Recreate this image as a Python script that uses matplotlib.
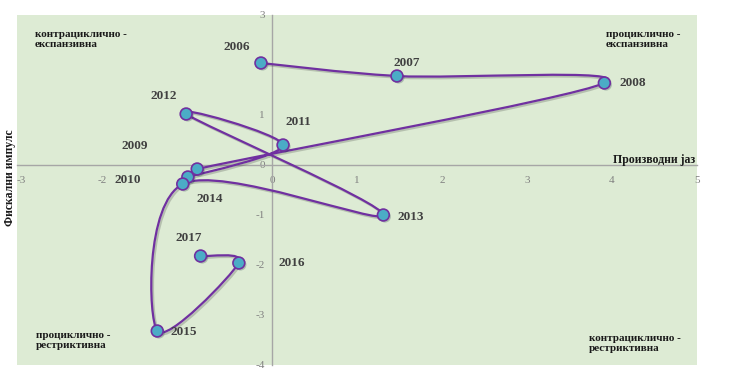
import numpy as np
import matplotlib
matplotlib.use("Agg")
import matplotlib.pyplot as plt
from matplotlib.path import Path
from matplotlib.patches import PathPatch
import matplotlib.patheffects as pe

years = ["2006", "2007", "2008", "2009", "2010", "2011", "2012", "2013",
         "2014", "2015", "2016", "2017"]
output_gap = [-0.13, 1.47, 3.91, -0.88, -0.99, 0.13, -1.01, 1.31,
              -1.05, -1.35, -0.39, -0.84]
fiscal_impulse = [2.04, 1.78, 1.64, -0.08, -0.24, 0.40, 1.02, -1.00,
                  -0.38, -3.32, -1.96, -1.82]
x_ticks = [-3, -2, -1, 0, 1, 2, 3, 4, 5]
y_ticks = [-4, -3, -2, -1, 0, 1, 2, 3]

# label offsets in pixels (dx, dy)
label_offsets = {
    "2006": (-24, 16), "2007": (10, 13), "2008": (28, 0), "2009": (-62, 23),
    "2010": (-60, -3), "2011": (15, 23), "2012": (-22, 18), "2013": (27, -2),
    "2014": (27, -15), "2015": (27, -1), "2016": (53, 0), "2017": (-12, 18),
}

W, H = 730, 380
fig = plt.figure(figsize=(W / 100, H / 100), dpi=100)
L, R, T, B = 17, 697, 15, 365
ax = fig.add_axes([L / W, (H - B) / H, (R - L) / W, (B - T) / H])
ax.set_facecolor("#DDEBD4")
ax.set_xlim(-3, 5)
ax.set_ylim(-4, 3)

for s in ["top", "right"]:
    ax.spines[s].set_visible(False)
ax.spines["left"].set_position(("data", 0))
ax.spines["bottom"].set_position(("data", 0))
for s in ["left", "bottom"]:
    ax.spines[s].set_color("#A6A6A6")
    ax.spines[s].set_linewidth(1.0)

serif = ["Liberation Serif", "DejaVu Serif"]
ax.set_xticks(x_ticks)
ax.set_yticks(y_ticks)
ax.set_xticklabels([str(v) for v in x_ticks], family=serif, fontsize=8, color="#808080")
ax.set_yticklabels([str(v) for v in y_ticks], family=serif, fontsize=8, color="#808080")
ax.tick_params(axis="x", length=0, pad=8)
ax.tick_params(axis="y", length=0, pad=5)
for lbl in ax.get_xticklabels() + ax.get_yticklabels():
    lbl.set_clip_on(False)
ax.get_xticklabels()[0].set_horizontalalignment("left")
ax.get_xticklabels()[0].set_x(-2.98)

# Smooth curve (Bezier, Catmull-Rom tangents capped by segment length,
# computed in pixel-proportional space)
sx, sy = 85.0, 50.0
P = np.column_stack([np.array(output_gap) * sx, np.array(fiscal_impulse) * sy])
n = len(P)


def cap(v, limit):
    m = np.hypot(*v)
    return v if m <= limit or m == 0 else v * (limit / m)


verts = [tuple(P[0])]
codes = [Path.MOVETO]
for i in range(n - 1):
    p0 = P[i - 1] if i > 0 else P[i]
    p1 = P[i]
    p2 = P[i + 1]
    p3 = P[i + 2] if i + 2 < n else P[i + 1]
    seg = np.hypot(*(p2 - p1))
    c1 = p1 + cap((p2 - p0) / 6.0, seg * 0.45)
    c2 = p2 - cap((p3 - p1) / 6.0, seg * 0.45)
    verts += [tuple(c1), tuple(c2), tuple(p2)]
    codes += [Path.CURVE4] * 3
verts = [(vx / sx, vy / sy) for vx, vy in verts]
path = Path(verts, codes)
patch = PathPatch(path, facecolor="none", edgecolor="#7030A0", lw=1.6, zorder=3)
patch.set_path_effects([pe.SimpleLineShadow(offset=(1.2, -1.2), alpha=0.25, shadow_color="#404040"),
                        pe.Normal()])
ax.add_patch(patch)

ax.plot(output_gap, fiscal_impulse, linestyle="none", marker="o", ms=8.5,
        mfc="#4BACC6", mec="#7030A0", mew=1.2, zorder=4,
        path_effects=[pe.SimplePatchShadow(offset=(1.2, -1.2), alpha=0.25), pe.Normal()])

for yr, x, y in zip(years, output_gap, fiscal_impulse):
    dx, dy = label_offsets[yr]
    ax.annotate(yr, (x, y), xytext=(dx, dy), textcoords="offset pixels",
                ha="center", va="center", family=serif, fontsize=9.5,
                fontweight="bold", color="#404040", zorder=5)


def fig_text(px, py, s):
    fig.text(px / W, 1 - py / H, s, family=serif, fontsize=8, fontweight="bold",
             color="#1a1a1a", ha="left", va="top", linespacing=1.15)


fig_text(35, 30, "контрациклично -\nекспанзивна")
fig_text(606, 30, "проциклично -\nекспанзивна")
fig_text(36, 331, "проциклично -\nрестриктивна")
fig_text(589, 334, "контрациклично -\nрестриктивна")

fig.text(695 / W, 1 - 160 / H, "Производни јаз", family=serif, fontsize=8.5,
         fontweight="bold", color="#1a1a1a", ha="right", va="center")
fig.text(10 / W, 1 - 178 / H, "Фискални импулс", family=serif, fontsize=8.5,
         fontweight="bold", color="#1a1a1a", ha="center", va="center", rotation=90)

fig.savefig("out.png", dpi=100, facecolor="white")
